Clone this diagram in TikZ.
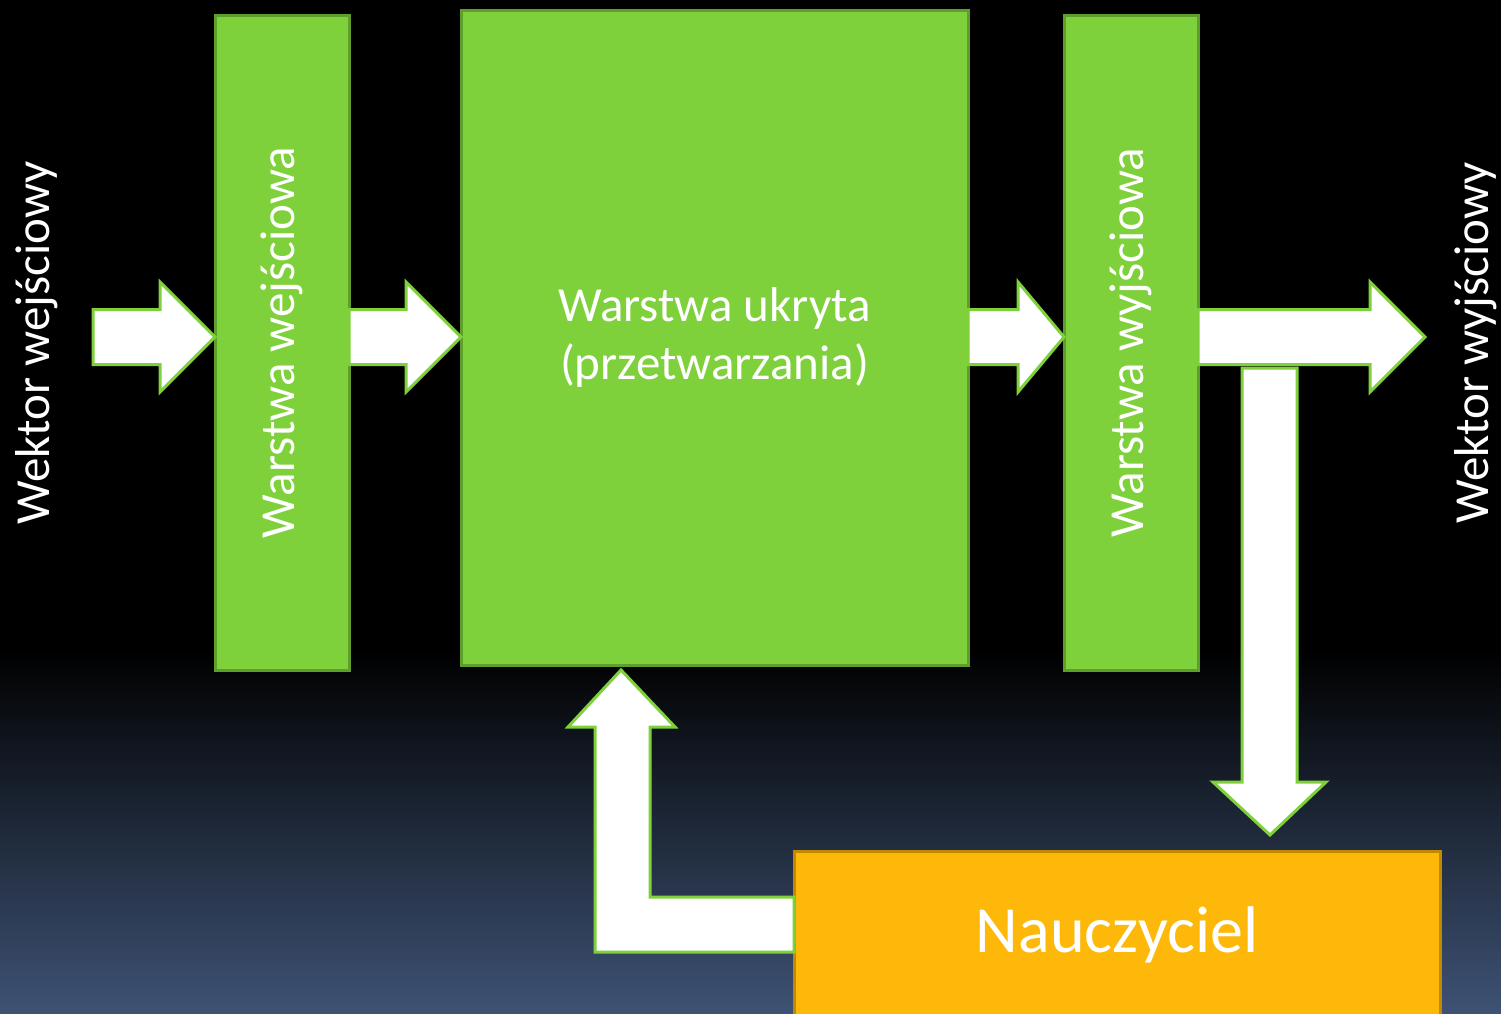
\documentclass[tikz,border=0pt]{standalone}
\usepackage{fontspec}
\setmainfont{Carlito}
\usetikzlibrary{
calc,
positioning,
}
\definecolor{layergreen}{HTML}{7FD13B}
\definecolor{layeredge}{HTML}{5E9E2A}
\definecolor{teachfill}{HTML}{FEB80A}
\definecolor{teachedge}{HTML}{C08A00}
\definecolor{bgblue}{RGB}{62,82,116}
\tikzset{
x=1pt, y=-1pt,
outer sep=0pt,
every node/.style={align=center, text=white},
layer/.style={rectangle, draw=layeredge, fill=layergreen, line width=3pt,
  anchor=north west, font=\fontsize{49}{58}\selectfont},
teacher/.style={rectangle, draw=teachedge, fill=teachfill, line width=3pt,
  anchor=north west, font=\fontsize{66}{72}\selectfont},
vlabel/.style={rotate=90, font=\fontsize{49}{58}\selectfont},
blockarrow/.style={draw=layergreen, fill=white, line width=3pt, line join=miter},
}
% horizontal block arrow: start, tip, head length
\newcommand\harrow[3]{%
  \draw[blockarrow] ($(#1)+(0,-27.5)$) -- ($(#2)+(-#3,-27.5)$) -- ($(#2)+(-#3,-55)$)
    -- (#2) -- ($(#2)+(-#3,55)$) -- ($(#2)+(-#3,27.5)$) -- ($(#1)+(0,27.5)$) -- cycle;}
\begin{document}
\begin{tikzpicture}
\useasboundingbox (0,0) rectangle (1501,1013);
\clip (0,0) rectangle (1501,1013);
% background
\fill[black] (0,0) rectangle (1501,650);
\shade[top color=black, bottom color=bgblue] (0,649) rectangle (1501,1013);

% layers
\node (inlayer) [layer, minimum width=134, minimum height=655] at (215,15) {};
\node (hidden) [layer, minimum width=507, minimum height=655] at (461,10)
  {Warstwa ukryta\\(przetwarzania)};
\node (outlayer) [layer, minimum width=134, minimum height=655] at (1064,15) {};
\node (teacher) [teacher, minimum width=646, minimum height=168] at (794,851) {Nauczyciel};

\node (inlayertxt) [vlabel] at (inlayer.center) {Warstwa wejściowa};
\node (outlayertxt) [vlabel] at (outlayer.center) {Warstwa wyjściowa};
\node (invec) [vlabel] at (37,343) {Wektor wejściowy};
\node (outvec) [vlabel] at (1476,343) {Wektor wyjściowy};

% flow arrows
\coordinate (row) at (0,337);
\coordinate (instart) at (93,337);
\coordinate (outtip) at (1425,337);
\harrow{instart}{inlayer.west |- row}{55}
\harrow{inlayer.east |- row}{hidden.west |- row}{55}
\harrow{hidden.east |- row}{outlayer.west |- row}{46}
\harrow{outlayer.east |- row}{outtip}{55}

% to teacher
\coordinate (downtip) at (1270,835);
\draw[blockarrow] ($(downtip)+(-28,-467)$) -- ($(downtip)+(27,-467)$) -- ($(downtip)+(27,-53)$)
  -- ($(downtip)+(56,-53)$) -- (downtip) -- ($(downtip)+(-57,-53)$) -- ($(downtip)+(-28,-53)$) -- cycle;

% back to hidden layer
\coordinate (uptip) at (621,670);
\draw[blockarrow] (teacher.west |- 0,897) -- (650,897) -- ($(uptip)+(29,57)$) -- ($(uptip)+(54,57)$)
  -- (uptip) -- ($(uptip)+(-53,57)$) -- ($(uptip)+(-26,57)$) -- (595,952) -- (teacher.west |- 0,952) -- cycle;
\end{tikzpicture}
\end{document}
